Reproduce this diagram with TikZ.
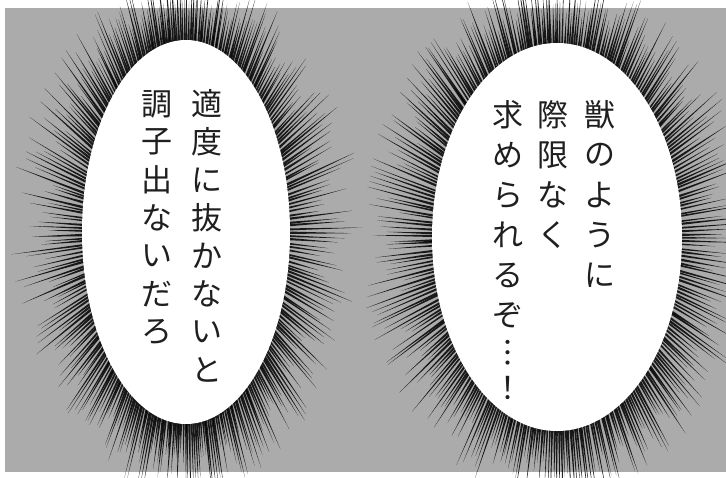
\documentclass[tikz,border=0pt]{standalone}
\usepackage{fontspec}
\newfontfamily\jp{Noto Sans CJK JP}
\usetikzlibrary{shapes.geometric}
\definecolor{tone}{gray}{0.67}
\tikzset{
  balloon/.style={ellipse, fill=white, draw=none, inner sep=0pt},
  jt/.style={font=\jp\fontsize{31}{31}\selectfont, inner sep=0pt, text=black!88},
  burstline/.style={fill=black, fill opacity=0.85}
}
\newcommand\myburst[4]{%
  \foreach \k in {1,...,340}{%
    \pgfmathsetmacro\tt{\k*1.058824+0.6*rnd}%
    \pgfmathsetmacro\ex{#3*cos(\tt)}%
    \pgfmathsetmacro\ey{#4*sin(\tt)}%
    \pgfmathsetmacro\ph{atan2(\ey,\ex)}%
    \pgfmathsetmacro\ux{cos(\ph)}%
    \pgfmathsetmacro\uy{sin(\ph)}%
    \pgfmathsetmacro\LL{30+45*rnd}%
    \pgfmathsetmacro\ww{0.9+0.5*rnd}%
    \fill[burstline] ({#1+\ex-6*\ux-\ww*\uy},{#2+\ey-6*\uy+\ww*\ux}) -- ({#1+\ex+\LL*\ux},{#2+\ey+\LL*\uy}) -- ({#1+\ex-6*\ux+\ww*\uy},{#2+\ey-6*\uy-\ww*\ux}) -- cycle;
  }%
}
\newcommand\vcol[5]{%
  \foreach \c [count=\i from 0] in {#5}{%
    \node[jt] (#1-\i) at (#2,{#3+\i*#4}) {\c};
  }%
}
\begin{document}
\begin{tikzpicture}[x=1pt,y=-1pt]
\useasboundingbox (0,0) rectangle (726,477);
\fill[white] (0,0) rectangle (726,477);
\fill[tone] (5,8) rectangle (726,472);
\pgfmathsetseed{4242}
\begin{scope}
  \clip (0,0) rectangle (726,477);
  \myburst{186}{232}{104}{192}
  \myburst{557}{237}{125}{194}
\end{scope}
\node[balloon, minimum width=208pt, minimum height=384pt] (L) at (186,232) {};
\node[balloon, minimum width=250pt, minimum height=388pt] (R) at (557,237) {};
% left balloon text
\vcol{la}{207}{104}{38}{適,度,に,抜,か,な,い,と}
\vcol{lb}{157}{104}{38}{調,子,出,な,い,だ,ろ}
% right balloon text
\vcol{ra}{600}{115}{40}{獣,の,よ,う,に}
\vcol{rb}{553}{115}{40}{際,限,な,く}
\vcol{rc}{508}{115}{40}{求,め,ら,れ,る,ぞ}
\node[jt] (rc-dots) at (508,353) {︙};
\node[jt] (rc-excl) at (508,388) {！};
\end{tikzpicture}
\end{document}
